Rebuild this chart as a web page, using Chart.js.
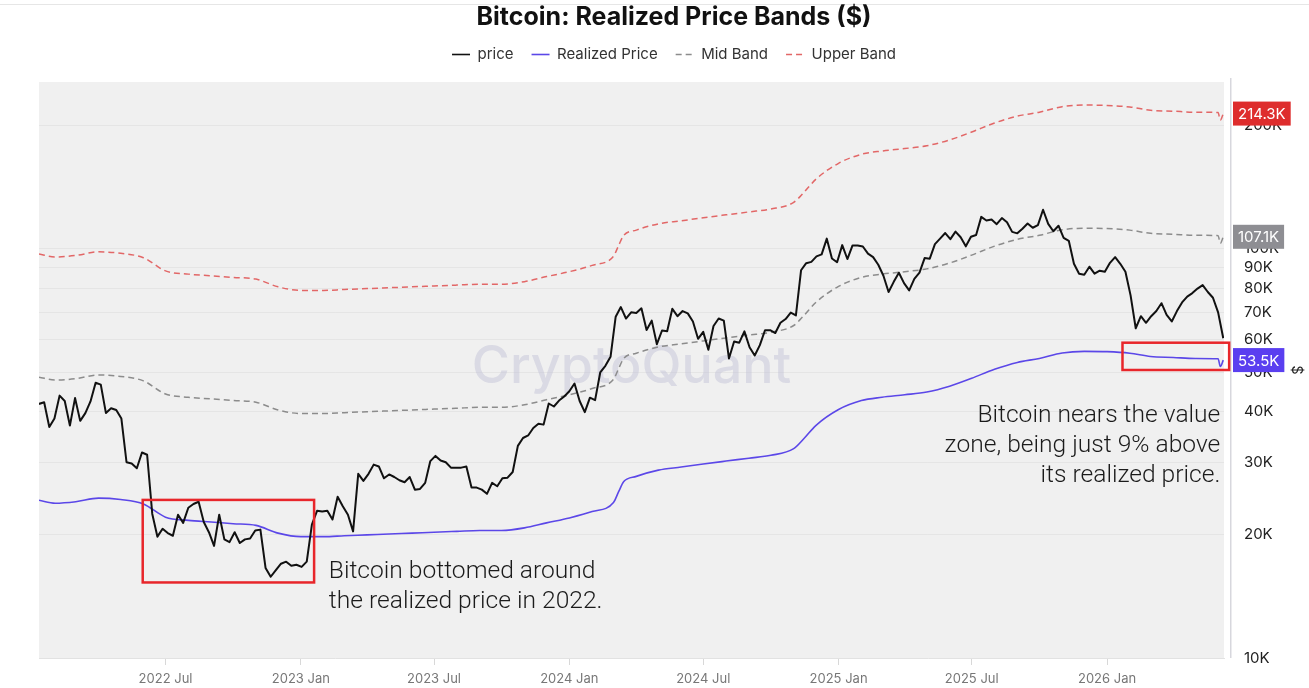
<!DOCTYPE html>
<html>
<head>
<meta charset="utf-8">
<title>Bitcoin: Realized Price Bands ($)</title>
<script src="https://cdn.jsdelivr.net/npm/chart.js@4.4.1/dist/chart.umd.min.js"></script>
<style>
  html, body { margin: 0; padding: 0; background: #fff; }
  canvas { display: block; }
</style>
</head>
<body>
<canvas id="chart" width="1309" height="688"></canvas>
<script>
// weekly closes, first one on 2022-01-10, one value every 7 days
const priceStart = '2022-01-10';
const priceStepDays = 7;
const priceValues = [
    // 2022
    41800, 42200, 36700, 38500, 43800, 42500, 37000, 43200, 38000, 39700,
    42400, 47100, 46600, 39700, 40800, 40400, 38500, 30100, 29900, 29100,
    31800, 31400, 22500, 19800, 20700, 20200, 19900, 22400, 21400, 23300,
    23800, 24100, 21500, 20300, 18800, 22400, 19500, 19200, 20300, 19100,
    19500, 19600, 20500, 20600, 16600, 15800, 16400, 17000, 17200, 16800,
    16900,
    // 2023
    16700, 17200, 21200, 22900, 22800, 22900, 21800, 24800, 23500, 22400,
    20400, 28200, 27100, 28200, 29700, 29400, 27500, 28100, 27700, 27200,
    26900, 27700, 25800, 25900, 26800, 30300, 31200, 30400, 30100, 29200,
    29200, 29200, 29400, 26100, 26100, 25800, 25200, 26800, 26300, 27500,
    27600, 28500, 33000, 34500, 35000, 36500, 37400, 37200, 41900, 41200,
    42600, 43600,
    // 2024
    44900, 46900, 42500, 39900, 43300, 42700, 49900, 51800, 54500, 68300,
    72100, 67600, 70000, 69700, 71600, 63400, 66800, 58500, 63200, 62900,
    71400, 68500, 70500, 69600, 66500, 60300, 62700, 56700, 64800, 67600,
    66800, 54000, 59400, 59000, 62900, 57500, 54900, 58200, 63300, 63300,
    62300, 66000, 67400, 69900, 68800, 88700, 92300, 93000, 95900, 97000,
    106000, 94800, 92800,
    // 2025
    102200, 94500, 102000, 102000, 101400, 97400, 95500, 91500, 86000, 78500,
    83100, 87500, 82500, 79200, 84500, 87500, 95000, 94700, 102800, 106000,
    109400, 105700, 110300, 106800, 101500, 107100, 108200, 119800, 117400, 118000,
    115000, 119000, 116200, 110100, 109200, 112100, 115400, 112700, 114400, 124700,
    115200, 110500, 114000, 106500, 104700, 92000, 87000, 86500, 90500, 87000,
    88500, 88000,
    // 2026
    92500, 95500, 92000, 88000, 77000, 64000, 68500, 66000, 68500, 70500,
    73700, 69000, 66500, 70500, 74000, 76500, 78000, 80000, 81600, 78500,
    76000, 70000, 60500
];

// realized price and its bands, read roughly once a month
const bandDates = [
    '2022-01-10', '2022-02-01', '2022-03-01', '2022-04-01', '2022-05-01', '2022-06-01',
    '2022-07-01', '2022-08-01', '2022-09-01', '2022-10-01', '2022-11-01', '2022-12-01',
    '2023-01-01', '2023-02-01', '2023-03-01', '2023-04-01', '2023-05-01', '2023-06-01',
    '2023-07-01', '2023-08-01', '2023-09-01', '2023-10-01', '2023-11-01', '2023-12-01',
    '2024-01-01', '2024-02-01', '2024-03-01', '2024-03-08', '2024-03-15', '2024-04-01',
    '2024-05-01', '2024-06-01', '2024-07-01', '2024-08-01', '2024-09-01', '2024-10-01',
    '2024-11-01', '2024-11-15', '2024-12-01',
    '2025-01-01', '2025-02-01', '2025-03-01', '2025-04-01', '2025-05-01', '2025-06-01',
    '2025-07-01', '2025-08-01', '2025-09-01', '2025-10-01', '2025-11-01', '2025-12-01',
    '2026-01-01', '2026-02-01', '2026-03-01', '2026-04-01', '2026-05-01', '2026-06-01',
    '2026-06-04', '2026-06-08'
];
const realizedPrice = [
    24300, 23900, 24100, 24600, 24400, 23800, 22100, 21700, 21500, 21300, 21100, 20200,
    19800, 19800, 19900, 20000, 20100, 20200, 20300, 20400, 20500, 20500, 20800, 21400,
    22000, 22800, 24000, 25500, 27000, 27800, 28800, 29300, 29800, 30300, 30800, 31300,
    32500, 34400, 37000,
    40500, 42600, 43400, 44000, 44700, 46200, 48300, 50800, 52800, 54000, 55700, 56200,
    56100, 55600, 54600, 54300, 54000, 53900, 51600, 53500
];
const midBand = [
    48600, 47800, 48200, 49200, 48800, 47600, 44200, 43400, 43000, 42600, 42200, 40400,
    39600, 39600, 39800, 40000, 40200, 40400, 40600, 40800, 41000, 41000, 41600, 42800,
    44000, 45600, 48000, 51000, 54000, 55600, 57600, 58600, 59600, 60600, 61600, 62600,
    65000, 68800, 74000,
    81000, 85200, 86800, 88000, 89400, 92400, 96600, 101600, 105600, 108000, 111400, 112400,
    112200, 111200, 109200, 108600, 108000, 107800, 103200, 107100
];
const upperBand = [
    97200, 95600, 96400, 98400, 97600, 95200, 88400, 86800, 86000, 85200, 84400, 80800,
    79200, 79200, 79600, 80000, 80400, 80800, 81200, 81600, 82000, 82000, 83200, 85600,
    88000, 91200, 96000, 102000, 108000, 111200, 115200, 117200, 119200, 121200, 123200, 125200,
    130000, 137600, 148000,
    162000, 170400, 173600, 176000, 178800, 184800, 193200, 203200, 211200, 216000, 222800, 224800,
    224400, 222400, 218400, 217200, 216000, 215600, 206400, 214300
];

const xStart = '2022-01-10';
const xEnd = '2026-06-09';
const tickDates = ['2022-07-01', '2023-01-01', '2023-07-01', '2024-01-01',
                   '2024-07-01', '2025-01-01', '2025-07-01', '2026-01-01'];
const tickLabels = ['2022 Jul', '2023 Jan', '2023 Jul', '2024 Jan',
                    '2024 Jul', '2025 Jan', '2025 Jul', '2026 Jan'];
const yTicks = [10000, 20000, 30000, 40000, 50000, 60000, 70000, 80000, 90000, 100000, 200000];
const yMin = 10000;
const yMax = 256000;

// the two red boxes and their notes, in dates and dollars
const boxes = [
    { from: '2022-05-31', to: '2023-01-19', low: 15300, high: 24350 },
    { from: '2026-01-22', to: '2026-06-16', low: 50600, high: 59000 }
];
const notes = [
    { date: '2023-02-08', value: 15690, align: 'left',
      lines: ['Bitcoin bottomed around', 'the realized price in 2022.'] },
    { date: '2026-06-04', value: 37800, align: 'right',
      lines: ['Bitcoin nears the value', 'zone, being just 9% above', 'its realized price.'] }
];

const FONT = "Inter, 'Liberation Sans', Arial, sans-serif";
Chart.defaults.font.family = FONT;
Chart.defaults.color = '#333';

const EPOCH = Date.UTC(2022, 0, 1);
function dayOf(s) {
    const [y, m, d] = s.split('-').map(Number);
    return Math.round((Date.UTC(y, m - 1, d) - EPOCH) / 86400000);
}

const priceX0 = dayOf(priceStart);
const pricePoints = priceValues.map((v, i) => ({ x: priceX0 + i * priceStepDays, y: v }));
const bandPoints = vals => vals.map((v, i) => ({ x: dayOf(bandDates[i]), y: v }));

// legend takes the room between title and plot, drawn a little higher
const legendSpace = {
    id: 'legendSpace',
    beforeInit(chart) {
        const legend = chart.legend;
        const fit = legend.fit;
        const draw = legend.draw;
        legend.fit = function () {
            fit.call(this);
            this.height = 50;
        };
        legend.draw = function () {
            this.ctx.save();
            this.ctx.translate(0, -3);
            draw.call(this);
            this.ctx.restore();
        };
    }
};

const plotDecor = {
    id: 'plotDecor',
    beforeDraw(chart) {
        const { ctx, chartArea: a } = chart;
        ctx.save();
        ctx.fillStyle = '#f0f0f0';
        ctx.fillRect(a.left, a.top, a.right - a.left, a.bottom - a.top);
        ctx.fillStyle = '#e6e6e6';
        ctx.fillRect(0, 4, chart.width, 1);
        ctx.fillStyle = '#d7d7dd';
        ctx.fillRect(a.right + 6, a.top - 4, 1.5, a.bottom - a.top + 4);
        ctx.restore();
    },
    beforeDatasetsDraw(chart) {
        const { ctx, chartArea: a } = chart;
        ctx.save();
        ctx.font = '500 52px ' + FONT;
        ctx.fillStyle = 'rgba(190, 190, 212, 0.45)';
        ctx.textAlign = 'center';
        ctx.textBaseline = 'alphabetic';
        ctx.fillText('CryptoQuant', (a.left + a.right) / 2, (a.top + a.bottom) / 2 + 13);
        ctx.restore();
    },
    afterDatasetsDraw(chart) {
        const { ctx } = chart;
        const xs = chart.scales.x, ys = chart.scales.y;
        ctx.save();
        ctx.strokeStyle = '#e8262b';
        ctx.lineWidth = 2.5;
        boxes.forEach(b => {
            const x1 = xs.getPixelForValue(dayOf(b.from));
            const x2 = xs.getPixelForValue(dayOf(b.to));
            const y1 = ys.getPixelForValue(b.high);
            const y2 = ys.getPixelForValue(b.low);
            ctx.strokeRect(x1, y1, x2 - x1, y2 - y1);
        });
        ctx.fillStyle = '#1b1b1b';
        ctx.font = "300 24.6px Roboto, 'Liberation Sans', sans-serif";
        ctx.textBaseline = 'alphabetic';
        notes.forEach(n => {
            const x = xs.getPixelForValue(dayOf(n.date));
            const y = ys.getPixelForValue(n.value);
            ctx.textAlign = n.align;
            n.lines.forEach((line, i) => ctx.fillText(line, x, y + i * 30));
        });
        ctx.restore();
    },
    afterDraw(chart) {
        const { ctx, chartArea: a } = chart;
        const ys = chart.scales.y;
        ctx.save();
        ctx.font = '15px ' + FONT;
        ctx.textBaseline = 'middle';
        ctx.textAlign = 'left';
        chart.data.datasets.forEach(ds => {
            if (!ds.tag) return;
            const v = ds.data[ds.data.length - 1].y;
            const y = ys.getPixelForValue(v);
            const text = (v / 1000).toFixed(1) + 'K';
            const w = ctx.measureText(text).width + 10;
            ctx.fillStyle = ds.tag;
            ctx.fillRect(a.right + 9, y - 12, w, 24);
            ctx.fillStyle = '#fff';
            ctx.fillText(text, a.right + 14, y + 1);
        });
        ctx.restore();
    }
};

new Chart(document.getElementById('chart'), {
    type: 'line',
    data: {
        datasets: [
            {
                label: 'price',
                data: pricePoints,
                borderColor: '#111111',
                borderWidth: 2,
                pointRadius: 0,
                borderJoinStyle: 'round'
            },
            {
                label: 'Realized Price',
                data: bandPoints(realizedPrice),
                borderColor: '#5b47e8',
                borderWidth: 1.6,
                pointRadius: 0,
                cubicInterpolationMode: 'monotone',
                tag: '#5a3ff0'
            },
            {
                label: 'Mid Band',
                data: bandPoints(midBand),
                borderColor: '#8c8c8c',
                borderWidth: 1.5,
                borderDash: [6, 4],
                pointRadius: 0,
                cubicInterpolationMode: 'monotone',
                tag: '#8e8e93'
            },
            {
                label: 'Upper Band',
                data: bandPoints(upperBand),
                borderColor: '#e26767',
                borderWidth: 1.5,
                borderDash: [6, 4],
                pointRadius: 0,
                cubicInterpolationMode: 'monotone',
                tag: '#de2d2d'
            }
        ]
    },
    options: {
        responsive: false,
        animation: false,
        layout: { padding: { left: 39, top: 0, right: 0, bottom: 0 } },
        plugins: {
            title: {
                display: true,
                text: 'Bitcoin: Realized Price Bands ($)',
                color: '#111',
                font: { size: 25, weight: 'bold' },
                padding: { top: 2, bottom: 0 }
            },
            legend: {
                labels: {
                    usePointStyle: true,
                    pointStyle: 'line',
                    pointStyleWidth: 18,
                    padding: 18,
                    color: '#333',
                    font: { size: 15 },
                    // legend samples take the dataset's own line style
                    generateLabels: chart =>
                        Chart.defaults.plugins.legend.labels.generateLabels(chart).map(item => {
                            const ds = chart.data.datasets[item.datasetIndex];
                            item.lineDash = ds.borderDash || [];
                            item.lineWidth = 1.6;
                            item.strokeStyle = ds.borderColor;
                            return item;
                        })
                }
            },
            tooltip: { enabled: false }
        },
        scales: {
            x: {
                type: 'linear',
                min: dayOf(xStart),
                max: dayOf(xEnd),
                afterBuildTicks: s => { s.ticks = tickDates.map(d => ({ value: dayOf(d) })); },
                afterFit: s => { s.height = 30; },
                ticks: {
                    autoSkip: false,
                    maxRotation: 0,
                    color: '#777',
                    font: { size: 13 },
                    padding: 6,
                    callback: (v, i) => tickLabels[i]
                },
                grid: { drawOnChartArea: false, drawTicks: true, tickLength: 7, color: '#d8d8d8' },
                border: { display: true, color: '#e2e2e2' }
            },
            y: {
                type: 'logarithmic',
                position: 'right',
                min: yMin,
                max: yMax,
                afterBuildTicks: s => { s.ticks = yTicks.map(v => ({ value: v })); },
                afterFit: s => { s.width = 85; },
                ticks: {
                    autoSkip: false,
                    color: '#222',
                    font: { size: 15 },
                    padding: 20,
                    callback: v => (v / 1000) + 'K'
                },
                grid: { color: 'rgba(0,0,0,0.045)', drawTicks: false },
                border: { display: false },
                title: { display: true, text: '$', color: '#222', font: { size: 14 }, padding: { top: 4, bottom: 4 } }
            }
        }
    },
    plugins: [legendSpace, plotDecor]
});
</script>
</body>
</html>
